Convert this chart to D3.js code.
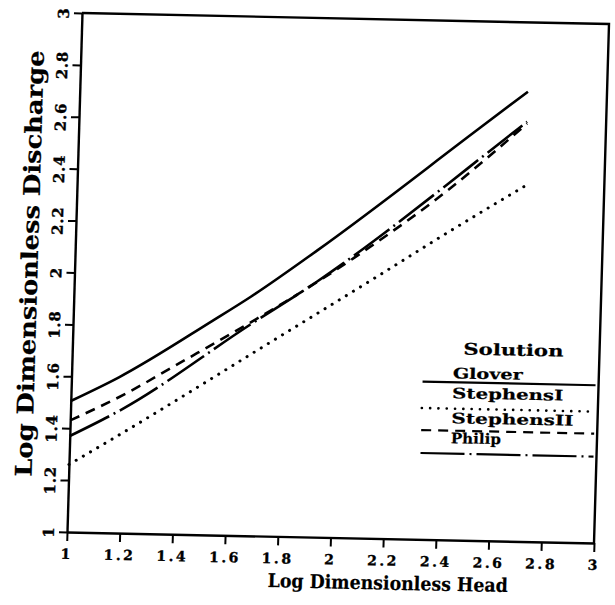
<!DOCTYPE html>
<html>
<head>
<meta charset="utf-8">
<script src="https://cdn.jsdelivr.net/npm/d3@7"></script>
<style>
  html, body { margin: 0; padding: 0; background: #fff; }
  svg { display: block; }
</style>
</head>
<body>
<script>
// Axis ticks and their printed labels
const xTicks = [1, 1.2, 1.4, 1.6, 1.8, 2, 2.2, 2.4, 2.6, 2.8, 3];
const xTickLabels = ["1", "1.2", "1.4", "1.6", "1.8", "2", "2.2", "2.4", "2.6", "2.8", "3"];
const yTicks = [1, 1.2, 1.4, 1.6, 1.8, 2, 2.2, 2.4, 2.6, 2.8, 3];
const yTickLabels = ["1", "1.2", "1.4", "1.6", "1.8", "2", "2.2", "2.4", "2.6", "2.8", "3"];

// Log dimensionless head vs. log dimensionless discharge, one pair of arrays per solution
const gloverHead = [1.00, 1.18, 1.53, 1.67, 1.92, 2.52, 2.70];
const gloverDischarge = [1.505, 1.60, 1.826, 1.92, 2.106, 2.588, 2.733];
const stephensIHead = [1.00, 1.19, 1.77, 2.15, 2.42, 2.70];
const stephensIDischarge = [1.26, 1.38, 1.76, 2.01, 2.19, 2.37];
const stephensIIHead = [1.00, 1.21, 1.385, 2.06, 2.40, 2.70];
const stephensIIDischarge = [1.43, 1.539, 1.645, 2.08, 2.341, 2.61];
const philipHead = [1.00, 1.19, 1.67, 1.92, 2.41, 2.53, 2.70];
const philipDischarge = [1.37, 1.474, 1.812, 1.984, 2.374, 2.475, 2.617];

const seriesNames = ["Glover", "StephensI", "StephensII", "Philip"];
const seriesHead = [gloverHead, stephensIHead, stephensIIHead, philipHead];
const seriesDischarge = [gloverDischarge, stephensIDischarge, stephensIIDischarge, philipDischarge];

const W = 615, H = 605;
const plotW = 527, plotH = 520;
const FONT = "'DejaVu Serif', 'Liberation Serif', serif";

// line styles per solution
const dashes = [null, "0.1 8.2", "10 7", "44 5 2 5"];
const widths = [2.6, 3.0, 2.6, 2.6];
const caps = ["butt", "round", "butt", "butt"];

const svg = d3.select("body").append("svg")
  .attr("width", W).attr("height", H)
  .attr("viewBox", `0 0 ${W} ${H}`);

svg.append("rect").attr("width", W).attr("height", H).attr("fill", "#fff");

// The printed figure sits slightly sheared on the page: one affine transform
// places the plot origin (bottom-left corner) and tilts the frame.
const g = svg.append("g")
  .attr("transform", "matrix(1, 0.02087, -0.02885, 0.998, 67, 532)");

const x = d3.scaleLinear().domain([1, 3]).range([0, plotW]);
const y = d3.scaleLinear().domain([1, 3]).range([0, -plotH]);

// heavy print style for all lettering
function ink(sel, size, spacing) {
  sel.style("font-family", FONT)
    .style("font-weight", "bold")
    .style("font-size", size + "px")
    .style("letter-spacing", (spacing || 0) + "px")
    .attr("fill", "#000")
    .attr("stroke", "#000")
    .attr("stroke-width", 0.35);
}

// frame: top and right edges
g.append("path")
  .attr("d", `M${x(1)},${y(3)}H${x(3)}V${y(1)}`)
  .attr("fill", "none").attr("stroke", "#000").attr("stroke-width", 2.4);

// bottom axis
const xAxis = g.append("g")
  .call(d3.axisBottom(x).tickValues(xTicks).tickSize(9).tickSizeOuter(0)
    .tickFormat((d, i) => xTickLabels[i]));
xAxis.select(".domain").attr("stroke-width", 2.4);
xAxis.selectAll(".tick line").attr("stroke-width", 2);
xAxis.selectAll(".tick text")
  .attr("y", 27).attr("dy", 0)
  .call(ink, 14, 2.5);

// left axis, labels turned to read upward
const yAxis = g.append("g")
  .call(d3.axisLeft(y).tickValues(yTicks).tickSize(8).tickSizeOuter(0)
    .tickFormat((d, i) => yTickLabels[i]));
yAxis.select(".domain").attr("stroke-width", 2.4);
yAxis.selectAll(".tick line").attr("stroke-width", 2);
yAxis.selectAll(".tick text")
  .attr("transform", "rotate(-90)")
  .attr("x", 0).attr("y", -13).attr("dy", 0)
  .attr("text-anchor", "middle")
  .call(ink, 15, 0.8);

// curves
const line = d3.line()
  .x(d => x(d[0]))
  .y(d => y(d[1]))
  .curve(d3.curveMonotoneX);

seriesNames.forEach((name, i) => {
  const pts = seriesHead[i].map((h, j) => [h, seriesDischarge[i][j]]);
  g.append("path")
    .datum(pts)
    .attr("d", line)
    .attr("fill", "none")
    .attr("stroke", "#000")
    .attr("stroke-width", widths[i])
    .attr("stroke-linecap", caps[i])
    .attr("stroke-dasharray", dashes[i]);
});

// axis titles
g.append("text")
  .attr("x", 322).attr("y", 51)
  .attr("text-anchor", "middle")
  .attr("textLength", 240).attr("lengthAdjust", "spacingAndGlyphs")
  .call(ink, 19)
  .attr("stroke-width", 0.2)
  .text("Log Dimensionless Head");

g.append("text")
  .attr("transform", "translate(-37,-268) rotate(-90)")
  .attr("text-anchor", "middle")
  .attr("textLength", 427).attr("lengthAdjust", "spacingAndGlyphs")
  .call(ink, 23)
  .attr("stroke-width", 0.2)
  .text("Log Dimensionless Discharge");

// legend
const legend = g.append("g");
legend.append("text")
  .attr("x", 441).attr("y", -186)
  .attr("text-anchor", "middle")
  .attr("textLength", 100).attr("lengthAdjust", "spacingAndGlyphs")
  .call(ink, 16)
  .attr("stroke-width", 0.2)
  .text("Solution");

const legendTextY = [-162, -142, -117, -97];
const legendLineY = [-158, -131.6, -109.5, -86.5];
const legendTextW = [70, 111, 122, 50];

seriesNames.forEach((name, i) => {
  legend.append("text")
    .attr("x", 381).attr("y", legendTextY[i])
    .attr("textLength", legendTextW[i]).attr("lengthAdjust", "spacingAndGlyphs")
    .call(ink, 14.5)
    .attr("stroke-width", 0.2)
    .text(name);
  legend.append("line")
    .attr("x1", 351).attr("x2", plotW - 3)
    .attr("y1", legendLineY[i]).attr("y2", legendLineY[i])
    .attr("stroke", "#000")
    .attr("stroke-width", widths[i] - 0.4)
    .attr("stroke-linecap", caps[i])
    .attr("stroke-dasharray", dashes[i]);
});
</script>
</body>
</html>
